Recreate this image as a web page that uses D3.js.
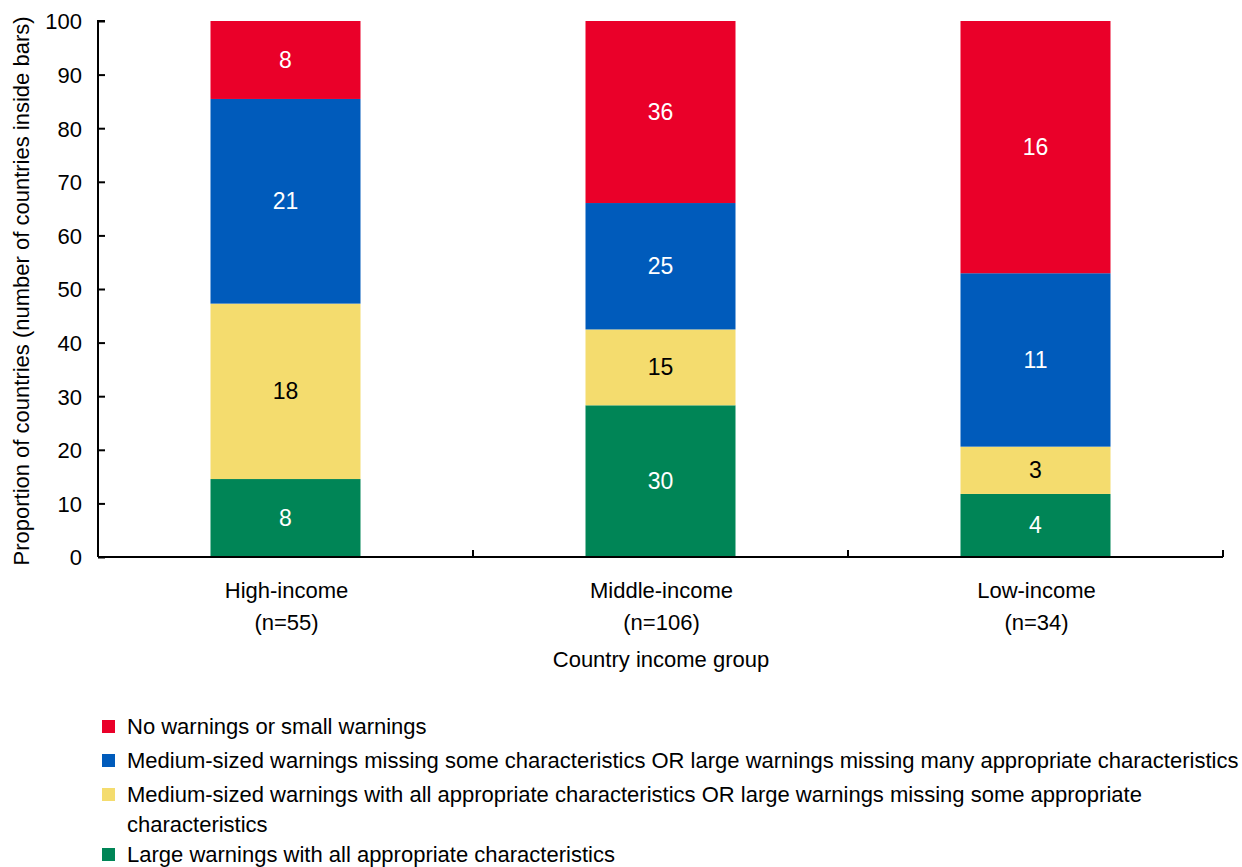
<!DOCTYPE html>
<html><head><meta charset="utf-8">
<script src="https://cdn.jsdelivr.net/npm/d3@7"></script>
<style>
html,body{margin:0;padding:0;background:#fff;}
text{font-family:"Liberation Sans",Arial,sans-serif;}
</style></head>
<body>
<svg id="c" width="1242" height="867"></svg>
<script>
const categories = ["High-income", "Middle-income", "Low-income"];
const categoryN = ["(n=55)", "(n=106)", "(n=34)"];
const seriesNames = [
  "Large warnings with all appropriate characteristics",
  "Medium-sized warnings with all appropriate characteristics OR large warnings missing some appropriate characteristics",
  "Medium-sized warnings missing some characteristics OR large warnings missing many appropriate characteristics",
  "No warnings or small warnings"
];
// counts of countries, bottom to top
const largeAll   = [8, 30, 4];
const mediumAll  = [18, 15, 3];
const mediumMiss = [21, 25, 11];
const noneSmall  = [8, 36, 16];
const yTicks = [0, 10, 20, 30, 40, 50, 60, 70, 80, 90, 100];
const colors = ["#008556", "#F4DC6E", "#005BBB", "#EA0029"];
const labelColors = ["#fff", "#000", "#fff", "#fff"];

const svg = d3.select("#c");
const mLeft = 98, mRight = 1223, mTop = 21, mBottom = 557;

const x = d3.scaleBand().domain(categories).range([mLeft, mRight]).paddingInner(0.6).paddingOuter(0.3);
const y = d3.scaleLinear().domain([0, 100]).range([mBottom, mTop]);

const rows = categories.map((c, i) => ({cat: c, v: [largeAll[i], mediumAll[i], mediumMiss[i], noneSmall[i]]}));
rows.forEach(r => { const t = d3.sum(r.v); r.p = r.v.map(v => v / t * 100); });

const stackData = rows.map(r => { const o = {cat: r.cat}; r.p.forEach((p, k) => o["s" + k] = p); return o; });
const stack = d3.stack().keys(["s0", "s1", "s2", "s3"])(stackData);

stack.forEach((layer, k) => {
  const g = svg.append("g");
  g.selectAll("rect").data(layer).join("rect")
    .attr("x", d => x(d.data.cat))
    .attr("width", x.bandwidth())
    .attr("y", d => y(d[1]))
    .attr("height", d => y(d[0]) - y(d[1]))
    .attr("fill", colors[k]);
  g.selectAll("text").data(layer).join("text")
    .attr("x", d => x(d.data.cat) + x.bandwidth() / 2)
    .attr("y", d => (y(d[0]) + y(d[1])) / 2 + 8)
    .attr("text-anchor", "middle")
    .attr("font-size", 23)
    .attr("fill", labelColors[k])
    .text((d, i) => rows[i].v[k]);
});

// Y axis
const yAxis = svg.append("g").attr("transform", `translate(${mLeft},0)`)
  .call(d3.axisRight(y).tickValues(yTicks).tickSize(7).tickFormat(d3.format("d")));
yAxis.select(".domain").attr("d", `M7,${mTop}H0V${mBottom}`).attr("stroke", "#000").attr("stroke-width", 2).attr("fill", "none");
yAxis.selectAll(".tick line").attr("stroke", "#000").attr("stroke-width", 2);
yAxis.selectAll(".tick text").attr("x", -16).attr("dy", "0.36em").attr("text-anchor", "end")
  .attr("font-size", 22).attr("fill", "#000").attr("font-family", "Liberation Sans, Arial, sans-serif");

// X axis
const bounds = [mLeft, ...categories.slice(1).map(c => x(c) - x.step() * x.paddingInner() / 2), mRight];
svg.append("line").attr("x1", mLeft).attr("x2", mRight).attr("y1", mBottom).attr("y2", mBottom)
  .attr("stroke", "#000").attr("stroke-width", 2);
svg.selectAll(".xt").data(bounds.slice(1)).join("line").attr("class", "xt")
  .attr("x1", d => d).attr("x2", d => d).attr("y1", mBottom).attr("y2", mBottom - 7)
  .attr("stroke", "#000").attr("stroke-width", 2);

const xl = svg.selectAll(".xl").data(categories).join("text").attr("class", "xl")
  .attr("text-anchor", "middle").attr("font-size", 22).attr("fill", "#000");
xl.append("tspan").attr("x", d => x(d) + x.bandwidth() / 2 + 1).attr("y", 598).text(d => d);
xl.append("tspan").attr("x", d => x(d) + x.bandwidth() / 2 + 1).attr("y", 630).text((d, i) => categoryN[i]);

svg.append("text").attr("x", 661).attr("y", 667).attr("text-anchor", "middle")
  .attr("font-size", 22).text("Country income group");

svg.append("text").attr("transform", `translate(29,${(mTop + mBottom) / 2 + 2}) rotate(-90)`)
  .attr("text-anchor", "middle").attr("font-size", 22)
  .text("Proportion of countries (number of countries inside bars)");

// Legend (top to bottom: reverse stack order)
const legendItems = [
  {k: 3, lines: [seriesNames[3]], y: 734},
  {k: 2, lines: [seriesNames[2]], y: 768},
  {k: 1, lines: ["Medium-sized warnings with all appropriate characteristics OR large warnings missing some appropriate", "characteristics"], y: 802},
  {k: 0, lines: [seriesNames[0]], y: 862}
];
const lg = svg.append("g");
legendItems.forEach(it => {
  lg.append("rect").attr("x", 102).attr("y", it.y - 14).attr("width", 13).attr("height", 13).attr("fill", colors[it.k]);
  const t = lg.append("text").attr("font-size", 22).attr("fill", "#000");
  it.lines.forEach((l, j) => t.append("tspan").attr("x", 127).attr("y", it.y + j * 30).text(l));
});
</script>
</body></html>
